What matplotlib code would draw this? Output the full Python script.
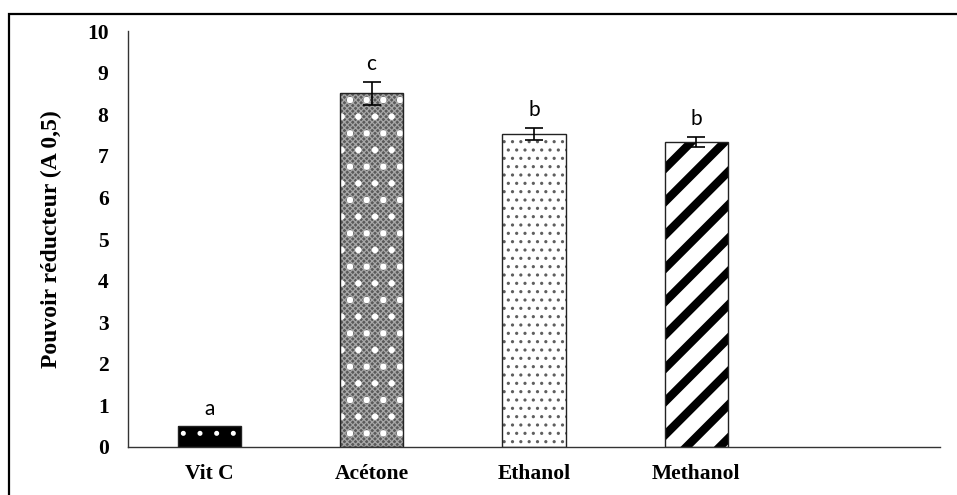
import numpy as np
import matplotlib
matplotlib.use("Agg")
import matplotlib.pyplot as plt
from matplotlib.patches import Rectangle

# reducing power of the extracts vs ascorbic acid
extraits = ["Vit C", "Acétone", "Ethanol", "Methanol", ""]
moyennes = [0.50, 8.50, 7.52, 7.33]
ecarts = [0.0, 0.28, 0.15, 0.12]
lettres = ["a", "c", "b", "b"]

# per-bar fill: (face colour, hatch, hatch colour, hatch linewidth)
remplissages = [
    [("black", ".", "white", 1.2)],
    [("#5a5a5a", "xxxxxx", "#a8a8a8", 0.9), ("none", ".", "white", 2.2)],
    [("white", "..", "#5e5e5e", 1.1)],
    [("white", "/", "black", 6.0)],
]

fig = plt.figure(figsize=(9.57, 4.95), dpi=100)
fig.patches.append(Rectangle((9/957, -0.1), 1.2, 1 - 13.5/495 + 0.1,
                             transform=fig.transFigure, fill=False,
                             edgecolor="black", lw=1.6))
ax = fig.add_axes([128/957, 1 - 447/495, (940 - 128)/957, (447 - 31)/495])

x = np.arange(len(moyennes))
w = 0.39
for xi, m, couches in zip(x, moyennes, remplissages):
    for face, hatch, hcol, hlw in couches:
        b = ax.bar(xi, m, w, color=face, edgecolor=hcol, hatch=hatch, lw=0, zorder=2)
        for p in b:
            if hasattr(p, "set_hatch_linewidth"):
                p.set_hatch_linewidth(hlw)
    ax.bar(xi, m, w, color="none", edgecolor="#222222", lw=1.0, zorder=3)

# error bars only where a deviation was measured
avec = [i for i, e in enumerate(ecarts) if e > 0]
ax.errorbar(x[avec], np.array(moyennes)[avec], yerr=np.array(ecarts)[avec],
            fmt="none", ecolor="black", elinewidth=1.2, capsize=6.5,
            capthick=1.2, zorder=4)

for xi, m, e, lt in zip(x, moyennes, ecarts, lettres):
    ax.text(xi, m + e + 0.28, lt, ha="center", va="baseline",
            fontsize=15, family="Lato", zorder=5)

ax.set_xlim(-0.5, len(extraits) - 0.5)
ax.set_ylim(0, 10)
ax.set_yticks(np.arange(0, 11, 1))
ax.set_xticks(np.arange(len(extraits)))
ax.set_xticklabels(extraits)
for lab in ax.get_xticklabels() + ax.get_yticklabels():
    lab.set_fontfamily("Liberation Serif")
    lab.set_fontweight("bold")
    lab.set_fontsize(15.5)
ax.tick_params(axis="y", length=0, pad=14)
ax.tick_params(axis="x", length=0, pad=12)
ax.set_ylabel("Pouvoir réducteur (A 0,5)", family="Liberation Serif",
              fontweight="bold", fontsize=17, labelpad=18)

for s in ["top", "right"]:
    ax.spines[s].set_visible(False)
for s in ["left", "bottom"]:
    ax.spines[s].set_color("#333333")
    ax.spines[s].set_linewidth(1.0)

fig.savefig("out.png", dpi=100)
